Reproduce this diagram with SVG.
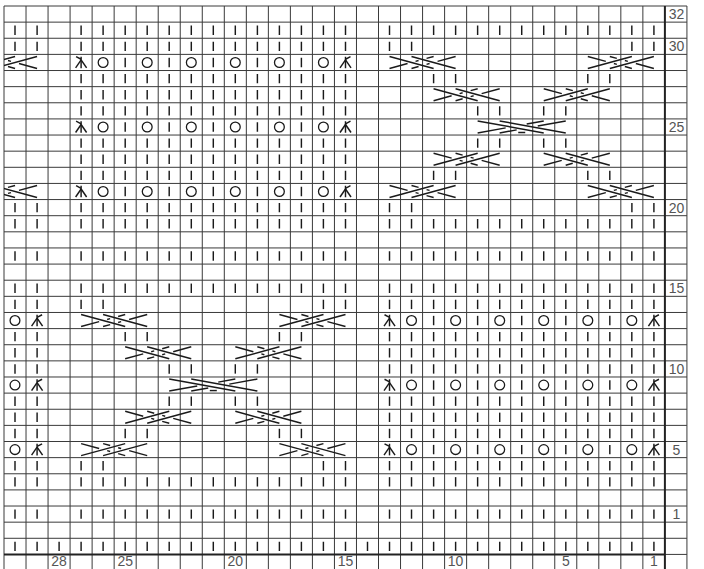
<svg xmlns="http://www.w3.org/2000/svg" xmlns:xlink="http://www.w3.org/1999/xlink" width="704" height="569" viewBox="0 0 704 569">
<style>
.grid{stroke:#3a3a3a;stroke-width:1;fill:none}
.thick{stroke:#222;stroke-width:2;fill:none}
.sym{stroke:#1a1a1a;stroke-width:1.45;fill:none;stroke-linecap:butt}
.lbl{font-family:"Liberation Sans",Arial,sans-serif;font-size:14px;fill:#555;text-anchor:middle}
</style>
<defs>
<clipPath id="chart"><rect x="4" y="6" width="660.9" height="548.4"/></clipPath>
<g id="k"><line x1="0" y1="-4.7" x2="0" y2="4.7"/></g>
<g id="o"><circle cx="0" cy="0" r="4.9" stroke-width="1.3"/></g>
<g id="dl"><line x1="0" y1="-5.8" x2="0" y2="5.8"/><line x1="0" y1="-2.5" x2="-5.5" y2="5.5"/><line x1="0" y1="-2.5" x2="5.5" y2="5.5"/><line x1="-5" y1="-5.8" x2="0" y2="-3.2"/></g>
<g id="dr"><use href="#dl" transform="scale(-1,1)"/></g>
<g id="cl">
<polyline points="11,6 29.05,1.09"/><polyline points="37.05,-1.09 40.05,-1.9"/><polyline points="48.05,-4.08 55.1,-6"/>
<polyline points="33,6 40.05,4.08"/><polyline points="48.05,1.9 51.05,1.09"/><polyline points="59.05,-1.09 77.1,-6"/>
<line x1="11" y1="-6" x2="55.1" y2="6"/><line x1="33" y1="-6" x2="77.1" y2="6"/>
</g>
<g id="cr"><use href="#cl" transform="translate(88.12,0) scale(-1,1)"/></g>
<g id="c5">
<polyline points="11,6 39.05,0.91"/><polyline points="60.05,-2.9 77.1,-6"/>
<polyline points="33,6 50.05,2.9"/><polyline points="71.1,-0.92 99.15,-6"/>
<line x1="11" y1="-6" x2="77.1" y2="6"/><line x1="33" y1="-6" x2="99.15" y2="6"/>
<line x1="51.6" y1="5.5" x2="58.6" y2="5.5"/>
</g>
<g id="p01"><use href="#k" x="15"/><use href="#k" x="37.1"/></g>
<g id="rA"><use href="#k" x="81.1"/><use href="#k" x="103.1"/><use href="#k" x="125.2"/><use href="#k" x="147.2"/><use href="#k" x="169.2"/><use href="#k" x="191.3"/><use href="#k" x="213.3"/><use href="#k" x="235.3"/><use href="#k" x="257.4"/><use href="#k" x="279.4"/><use href="#k" x="301.4"/><use href="#k" x="323.4"/><use href="#k" x="345.5"/></g>
<g id="rB"><use href="#rA" x="308.42"/></g>
<g id="rF"><use href="#p01"/><use href="#rA"/><use href="#rB"/></g>
<g id="lace"><use href="#dl" x="81.1"/><use href="#o" x="103.1"/><use href="#k" x="125.2"/><use href="#o" x="147.2"/><use href="#k" x="169.2"/><use href="#o" x="191.3"/><use href="#k" x="213.3"/><use href="#o" x="235.3"/><use href="#k" x="257.4"/><use href="#o" x="279.4"/><use href="#k" x="301.4"/><use href="#o" x="323.4"/><use href="#dr" x="345.5"/></g>
</defs>
<rect x="0" y="0" width="704" height="569" fill="#fff"/>
<g id="grid">
<path class="grid" d="M4 6V569M26.03 6V569M48.06 6V569M70.09 6V569M92.12 6V569M114.15 6V569M136.18 6V569M158.21 6V569M180.24 6V569M202.27 6V569M224.3 6V569M246.33 6V569M268.36 6V569M290.39 6V569M312.42 6V569M334.45 6V569M356.48 6V569M378.51 6V569M400.54 6V569M422.57 6V569M444.6 6V569M466.63 6V569M488.66 6V569M510.69 6V569M532.72 6V569M554.75 6V569M576.78 6V569M598.81 6V569M620.84 6V569M642.87 6V569M686.93 6V569"/>
<path class="grid" d="M4 6H686.93M4 22.13H686.93M4 38.26H686.93M4 54.39H686.93M4 70.52H686.93M4 86.65H686.93M4 102.78H686.93M4 118.91H686.93M4 135.04H686.93M4 151.17H686.93M4 167.3H686.93M4 183.43H686.93M4 199.56H686.93M4 215.69H686.93M4 231.82H686.93M4 247.95H686.93M4 264.08H686.93M4 280.21H686.93M4 296.34H686.93M4 312.47H686.93M4 328.6H686.93M4 344.73H686.93M4 360.86H686.93M4 376.99H686.93M4 393.12H686.93M4 409.25H686.93M4 425.38H686.93M4 441.51H686.93M4 457.64H686.93M4 473.77H686.93M4 489.9H686.93M4 506.03H686.93M4 522.16H686.93M4 538.29H686.93M664.9 554.42H686.93"/>
<path class="thick" d="M664.9 6V569M4 554.42H664.9"/>
</g>
<g id="stitches" class="sym" clip-path="url(#chart)">
<g id="row31" transform="translate(0,30.2)"><use href="#rF"/></g>
<g id="row30" transform="translate(0,46.33)"><use href="#p01"/><use href="#rA"/><use href="#k" x="389.5"/><use href="#k" x="411.6"/><use href="#k" x="631.9"/><use href="#k" x="653.9"/></g>
<g id="row29" transform="translate(0,62.46)"><use href="#lace"/><use href="#cr" x="-40.06"/><use href="#cl" x="378.51"/><use href="#cr" x="576.78"/></g>
<g id="row28" transform="translate(0,78.59)"><use href="#rA"/><use href="#k" x="433.6"/><use href="#k" x="455.6"/><use href="#k" x="587.8"/><use href="#k" x="609.8"/></g>
<g id="row27" transform="translate(0,94.72)"><use href="#rA"/><use href="#cl" x="422.57"/><use href="#cr" x="532.72"/></g>
<g id="row26" transform="translate(0,110.85)"><use href="#rA"/><use href="#k" x="477.7"/><use href="#k" x="499.7"/><use href="#k" x="543.7"/><use href="#k" x="565.8"/></g>
<g id="row25" transform="translate(0,126.98)"><use href="#lace"/><use href="#c5" x="466.63"/></g>
<g id="row24" transform="translate(0,143.11)"><use href="#rA"/><use href="#k" x="477.7"/><use href="#k" x="499.7"/><use href="#k" x="543.7"/><use href="#k" x="565.8"/></g>
<g id="row23" transform="translate(0,159.24)"><use href="#rA"/><use href="#cr" x="422.57"/><use href="#cl" x="532.72"/></g>
<g id="row22" transform="translate(0,175.37)"><use href="#rA"/><use href="#k" x="433.6"/><use href="#k" x="455.6"/><use href="#k" x="587.8"/><use href="#k" x="609.8"/></g>
<g id="row21" transform="translate(0,191.5)"><use href="#lace"/><use href="#cl" x="-40.06"/><use href="#cr" x="378.51"/><use href="#cl" x="576.78"/></g>
<g id="row20" transform="translate(0,207.63)"><use href="#p01"/><use href="#rA"/><use href="#k" x="389.5"/><use href="#k" x="411.6"/><use href="#k" x="631.9"/><use href="#k" x="653.9"/></g>
<g id="row19" transform="translate(0,223.76)"><use href="#rF"/></g>
<g id="row17" transform="translate(0,256.02)"><use href="#rF"/></g>
<g id="row15" transform="translate(0,288.28)"><use href="#rF"/></g>
<g id="row14" transform="translate(0,304.41)"><use href="#p01"/><use href="#k" x="81.1"/><use href="#k" x="103.1"/><use href="#k" x="323.4"/><use href="#k" x="345.5"/><use href="#rB"/></g>
<g id="row13" transform="translate(0,320.54)"><use href="#lace" x="-308.42"/><use href="#lace" x="308.42"/><use href="#cl" x="70.09"/><use href="#cr" x="268.36"/></g>
<g id="row12" transform="translate(0,336.67)"><use href="#p01"/><use href="#k" x="125.2"/><use href="#k" x="147.2"/><use href="#k" x="279.4"/><use href="#k" x="301.4"/><use href="#rB"/></g>
<g id="row11" transform="translate(0,352.8)"><use href="#p01"/><use href="#rB"/><use href="#cl" x="114.15"/><use href="#cr" x="224.3"/></g>
<g id="row10" transform="translate(0,368.93)"><use href="#p01"/><use href="#k" x="169.2"/><use href="#k" x="191.3"/><use href="#k" x="235.3"/><use href="#k" x="257.4"/><use href="#rB"/></g>
<g id="row9" transform="translate(0,385.06)"><use href="#lace" x="-308.42"/><use href="#lace" x="308.42"/><use href="#c5" x="158.21"/></g>
<g id="row8" transform="translate(0,401.19)"><use href="#p01"/><use href="#k" x="169.2"/><use href="#k" x="191.3"/><use href="#k" x="235.3"/><use href="#k" x="257.4"/><use href="#rB"/></g>
<g id="row7" transform="translate(0,417.32)"><use href="#p01"/><use href="#rB"/><use href="#cr" x="114.15"/><use href="#cl" x="224.3"/></g>
<g id="row6" transform="translate(0,433.45)"><use href="#p01"/><use href="#k" x="125.2"/><use href="#k" x="147.2"/><use href="#k" x="279.4"/><use href="#k" x="301.4"/><use href="#rB"/></g>
<g id="row5" transform="translate(0,449.58)"><use href="#lace" x="-308.42"/><use href="#lace" x="308.42"/><use href="#cr" x="70.09"/><use href="#cl" x="268.36"/></g>
<g id="row4" transform="translate(0,465.71)"><use href="#p01"/><use href="#k" x="81.1"/><use href="#k" x="103.1"/><use href="#k" x="323.4"/><use href="#k" x="345.5"/><use href="#rB"/></g>
<g id="row3" transform="translate(0,481.84)"><use href="#rF"/></g>
<g id="row1" transform="translate(0,514.1)"><use href="#rF"/></g>
<g id="rowm1" transform="translate(0,546.36)"><use href="#rF"/><use href="#k" x="59.1"/><use href="#k" x="367.5"/></g>
</g>
<g id="rowlabels">
<text class="lbl" x="676.5" y="19.1">32</text>
<text class="lbl" x="676.5" y="51.3">30</text>
<text class="lbl" x="676.5" y="132">25</text>
<text class="lbl" x="676.5" y="212.6">20</text>
<text class="lbl" x="676.5" y="293.3">15</text>
<text class="lbl" x="676.5" y="373.9">10</text>
<text class="lbl" x="676.5" y="454.6">5</text>
<text class="lbl" x="676.5" y="519.1">1</text>
</g>
<g id="collabels">
<text class="lbl" x="59.1" y="566">28</text>
<text class="lbl" x="125.2" y="566">25</text>
<text class="lbl" x="235.3" y="566">20</text>
<text class="lbl" x="345.5" y="566">15</text>
<text class="lbl" x="455.6" y="566">10</text>
<text class="lbl" x="565.8" y="566">5</text>
<text class="lbl" x="653.9" y="566">1</text>
</g>
</svg>
